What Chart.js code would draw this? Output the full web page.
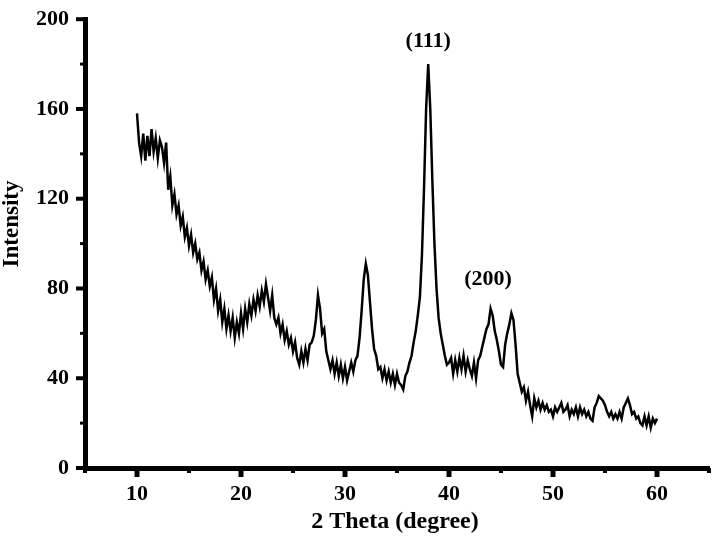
<!DOCTYPE html>
<html>
<head>
<meta charset="utf-8">
<script src="https://cdn.jsdelivr.net/npm/chart.js@4.4.0/dist/chart.umd.min.js"></script>
<style>
html, body { margin: 0; padding: 0; background: #fff; }
</style>
</head>
<body>
<canvas id="xrdChart" width="713" height="537"></canvas>
<script>
// scan grid (2 theta, degree)
var thetaStart = 10;
var thetaStep = 0.2;

// intensity, 10.0 .. 60.0 every 0.2 degree
var intensity = [
    158, 145, 139, 149, 137,   148, 139, 151, 141, 147,
    138, 146, 143, 136, 145,   124, 130, 117, 122, 113,
    117, 108, 112, 103, 107,   99, 104, 96, 100, 93,
    96, 88, 92, 84, 88,        81, 85, 75, 80, 70,
    75, 65, 71, 62, 68,        61, 67, 58, 65, 60,
    69, 62, 71, 65, 73,        68, 75, 70, 77, 72,
    79, 74, 82, 76, 70,        77, 67, 64, 67, 60,
    64, 57, 61, 55, 58,        52, 56, 49, 46, 52,
    47, 53, 48, 55, 56,        59, 66, 77, 71, 60,
    62, 52, 48, 44, 48,        42, 47, 41, 46, 40,
    45, 39, 43, 47, 43,        48, 50, 58, 70, 84,
    91, 86, 74, 62, 53,        50, 44, 45, 40, 44,
    39, 43, 38, 42, 37,        42, 38, 37, 35, 41,
    43, 47, 50, 56, 61,        68, 76, 95, 125, 160,
    180, 160, 128, 100, 80,    67, 60, 55, 50, 46,
    47, 49, 42, 48, 43,        49, 44, 50, 43, 48,
    44, 41, 47, 40, 48,        50, 54, 58, 62, 64,
    71, 68, 61, 57, 52,        46, 45, 55, 60, 64,
    69, 66, 55, 42, 38,        34, 36, 30, 34, 28,
    23, 31, 27, 30, 26,        29, 26, 28, 25, 26,
    23, 27, 25, 27, 29,        25, 26, 28, 23, 26,
    24, 27, 23, 27, 24,        26, 23, 25, 22, 21,
    27, 29, 32, 31, 30,        28, 25, 23, 25, 22,
    24, 22, 25, 22, 27,        29, 31, 28, 24, 25,
    22, 23, 20, 19, 23,        19, 23, 18, 22, 20,
    22
];

var xTicks = [10, 20, 30, 40, 50, 60];
var yTicks = [0, 40, 80, 120, 160, 200];

var peakLabels = ['(111)', '(200)'];
var peakTheta = [38.0, 43.75];
var peakLevel = [190, 84];

var xTitle = '2 Theta (degree)';
var yTitle = 'Intensity';

var points = intensity.map(function (v, i) {
    return { x: +(thetaStart + i * thetaStep).toFixed(1), y: v };
});

var FONT = '"Liberation Serif", "Times New Roman", serif';

// minor/major tick marks, axis titles and peak labels
var decor = {
    id: 'decor',
    afterDraw: function (chart) {
        var ctx = chart.ctx;
        var xs = chart.scales.x, ys = chart.scales.y;
        var area = chart.chartArea;
        ctx.save();
        ctx.strokeStyle = '#000';
        ctx.lineCap = 'butt';
        for (var v = 5; v <= 65; v += 5) {
            var major = v % 10 === 0;
            var px = xs.getPixelForValue(v);
            ctx.lineWidth = major ? 5 : 4;
            ctx.beginPath();
            ctx.moveTo(px, area.bottom);
            ctx.lineTo(px, area.bottom + (major ? 9 : 5));
            ctx.stroke();
        }
        for (var w = 0; w <= 200; w += 20) {
            var maj = w % 40 === 0;
            var py = ys.getPixelForValue(w);
            ctx.lineWidth = maj ? 4 : 3;
            ctx.beginPath();
            ctx.moveTo(area.left, py);
            ctx.lineTo(area.left - (maj ? 9 : 5), py);
            ctx.stroke();
        }

        ctx.fillStyle = '#000';
        ctx.textAlign = 'center';
        ctx.textBaseline = 'middle';
        ctx.font = 'bold 22px ' + FONT;
        peakLabels.forEach(function (t, i) {
            ctx.fillText(t, xs.getPixelForValue(peakTheta[i]), ys.getPixelForValue(peakLevel[i]));
        });

        ctx.font = 'bold 24px ' + FONT;
        ctx.fillText(xTitle, 395, 522);

        ctx.save();
        ctx.translate(12, 224);
        ctx.rotate(-Math.PI / 2);
        ctx.font = 'bold 23px ' + FONT;
        ctx.fillText(yTitle, 0, 0);
        ctx.restore();
        ctx.restore();
    }
};

new Chart(document.getElementById('xrdChart'), {
    type: 'line',
    data: {
        datasets: [{
            data: points,
            borderColor: '#000',
            borderWidth: 2.5,
            pointRadius: 0,
            tension: 0,
            fill: false
        }]
    },
    options: {
        responsive: false,
        animation: false,
        layout: { padding: { top: 10, right: 4, left: 0, bottom: 0 } },
        plugins: { legend: { display: false }, tooltip: { enabled: false } },
        scales: {
            x: {
                type: 'linear',
                min: 5,
                max: 65,
                afterBuildTicks: function (scale) {
                    scale.ticks = xTicks.map(function (v) { return { value: v }; });
                },
                afterFit: function (scale) { scale.height = 69; },
                grid: { display: true, drawOnChartArea: false, drawTicks: true, tickLength: 10, color: 'rgba(0,0,0,0)' },
                border: { display: true, color: '#000', width: 5 },
                ticks: {
                    padding: 3,
                    maxRotation: 0,
                    color: '#000',
                    font: { family: FONT, size: 22, weight: 'bold' }
                }
            },
            y: {
                min: 0,
                max: 200,
                afterBuildTicks: function (scale) {
                    scale.ticks = yTicks.map(function (v) { return { value: v }; });
                },
                afterFit: function (scale) { scale.width = 85; },
                grid: { display: true, drawOnChartArea: false, drawTicks: true, tickLength: 10, color: 'rgba(0,0,0,0)' },
                border: { display: true, color: '#000', width: 5 },
                ticks: {
                    padding: 6,
                    color: '#000',
                    font: { family: FONT, size: 22, weight: 'bold' }
                }
            }
        }
    },
    plugins: [decor]
});
</script>
</body>
</html>
